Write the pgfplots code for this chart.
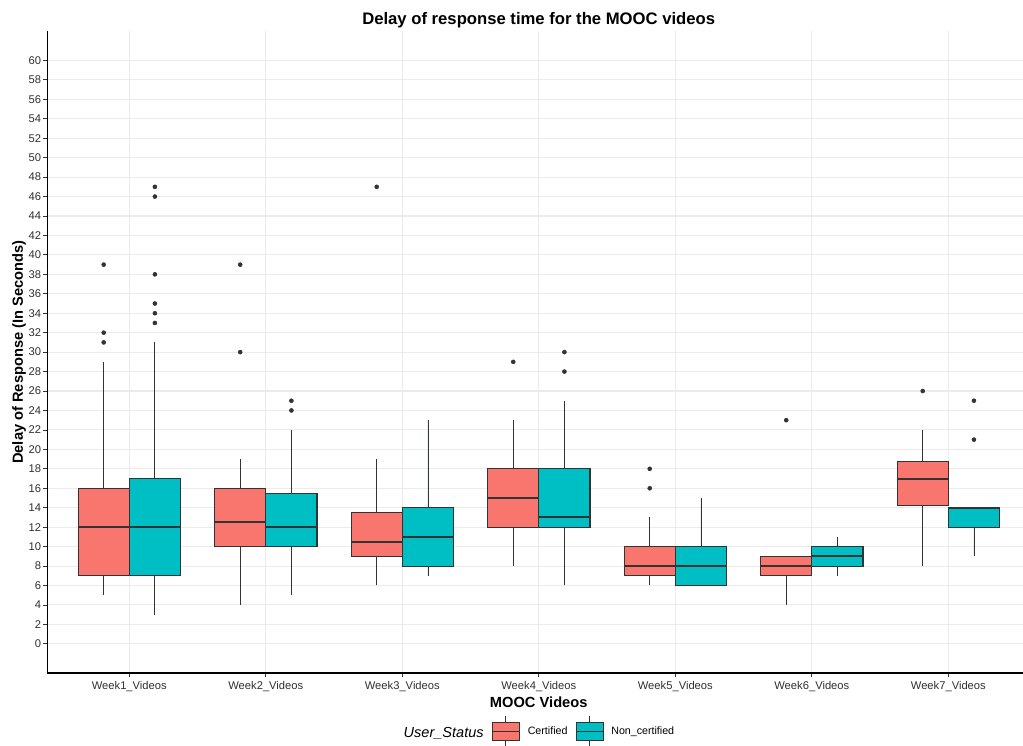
\documentclass[border=0pt]{standalone}
\usepackage{pgfplots}
\pgfplotsset{compat=1.18}
\usepgfplotslibrary{statistics}
\usepackage{fontspec}
\setmainfont{Liberation Sans}
\definecolor{cert}{HTML}{F8766D}
\definecolor{ncert}{HTML}{00BFC4}
\definecolor{bord}{HTML}{333333}
\definecolor{gridc}{HTML}{EBEBEB}
\definecolor{tickc}{HTML}{303030}
\pgfplotsset{
  bx/.style={fill=#1, draw=bord, line width=0.8pt, forget plot},
  outl/.style={only marks, mark=*, mark size=1.5pt, color=bord, forget plot},
  boxkey/.style={legend image code/.code={
    \draw[fill=#1, draw=bord, line width=0.6pt] (0pt,-7pt) rectangle (20.25pt,7pt);
    \draw[draw=bord, line width=0.6pt] (0pt,0pt)--(20.25pt,0pt)
      (10.125pt,7pt)--(10.125pt,11.5pt) (10.125pt,-7pt)--(10.125pt,-11.5pt);}},
}
\begin{document}
\begin{tikzpicture}
\useasboundingbox (0,0) rectangle (767.25pt,558.75pt);
\begin{axis}[
  at={(35.55pt,54pt)}, anchor=south west,
  scale only axis, width=731.7pt, height=481.3pt,
  xmin=0.4, xmax=7.547, ymin=-3, ymax=63,
  clip=false,
  axis x line*=bottom, axis y line*=left,
  axis line style={line width=0.8pt, color=black},
  xtick={1,...,7},
  xticklabels={Week1\_Videos,Week2\_Videos,Week3\_Videos,Week4\_Videos,Week5\_Videos,Week6\_Videos,Week7\_Videos},
  ytick={0,2,...,60},
  tick align=outside, major tick length=3pt,
  tick style={line width=0.6pt, color=bord},
  grid=major, grid style={line width=0.8pt, color=gridc},
  ticklabel style={font=\fontsize{8.4}{10}\selectfont, color=tickc},
  yticklabel style={inner sep=1.5pt},
  /pgf/number format/assume math mode=true,
  title={Delay of response time for the MOOC videos},
  title style={font=\bfseries\fontsize{12.5}{14}\selectfont, at={(axis description cs:0.5036,0.9984)}, anchor=base},
  xlabel={MOOC Videos},
  xlabel style={font=\bfseries\fontsize{11}{13}\selectfont, at={(axis description cs:0.5036,-0.0535)}, anchor=base},
  ylabel={Delay of Response (In Seconds)},
  ylabel style={font=\bfseries\fontsize{11}{13}\selectfont, at={(axis description cs:-0.0291,0.5)}, anchor=center, rotate=0},
  boxplot/draw direction=y,
  boxplot/every median/.style={line width=1.5pt},
  boxplot/every whisker/.style={line width=0.6pt},
  legend style={draw=none, fill=none, inner sep=0pt, outer sep=0pt,
    at={(axis description cs:0.4557,-0.091)}, anchor=west,
    nodes={inner sep=0pt, font=\fontsize{8}{9.6}\selectfont},
    /tikz/every odd column/.append style={column sep=6pt},
    /tikz/every even column/.append style={column sep=6pt}},
  legend columns=-1,
]
\addlegendimage{boxkey=cert}
\addlegendentry{Certified}
\addlegendimage{boxkey=ncert}
\addlegendentry{Non\_certified}

% Week 1
\addplot[bx=cert, boxplot prepared={draw position=0.8125, lower whisker=5, lower quartile=7, median=12, upper quartile=16, upper whisker=29, box extend=0.375, whisker extend=0}] coordinates {};
\addplot[bx=ncert, boxplot prepared={draw position=1.1875, lower whisker=3, lower quartile=7, median=12, upper quartile=17, upper whisker=31, box extend=0.375, whisker extend=0}] coordinates {};
% Week 2
\addplot[bx=cert, boxplot prepared={draw position=1.8125, lower whisker=4, lower quartile=10, median=12.5, upper quartile=16, upper whisker=19, box extend=0.375, whisker extend=0}] coordinates {};
\addplot[bx=ncert, boxplot prepared={draw position=2.1875, lower whisker=5, lower quartile=10, median=12, upper quartile=15.5, upper whisker=22, box extend=0.375, whisker extend=0}] coordinates {};
% Week 3
\addplot[bx=cert, boxplot prepared={draw position=2.8125, lower whisker=6, lower quartile=9, median=10.5, upper quartile=13.5, upper whisker=19, box extend=0.375, whisker extend=0}] coordinates {};
\addplot[bx=ncert, boxplot prepared={draw position=3.1875, lower whisker=7, lower quartile=8, median=11, upper quartile=14, upper whisker=23, box extend=0.375, whisker extend=0}] coordinates {};
% Week 4
\addplot[bx=cert, boxplot prepared={draw position=3.8125, lower whisker=8, lower quartile=12, median=15, upper quartile=18, upper whisker=23, box extend=0.375, whisker extend=0}] coordinates {};
\addplot[bx=ncert, boxplot prepared={draw position=4.1875, lower whisker=6, lower quartile=12, median=13, upper quartile=18, upper whisker=25, box extend=0.375, whisker extend=0}] coordinates {};
% Week 5
\addplot[bx=cert, boxplot prepared={draw position=4.8125, lower whisker=6, lower quartile=7, median=8, upper quartile=10, upper whisker=13, box extend=0.375, whisker extend=0}] coordinates {};
\addplot[bx=ncert, boxplot prepared={draw position=5.1875, lower whisker=6, lower quartile=6, median=8, upper quartile=10, upper whisker=15, box extend=0.375, whisker extend=0}] coordinates {};
% Week 6
\addplot[bx=cert, boxplot prepared={draw position=5.8125, lower whisker=4, lower quartile=7, median=8, upper quartile=9, upper whisker=9, box extend=0.375, whisker extend=0}] coordinates {};
\addplot[bx=ncert, boxplot prepared={draw position=6.1875, lower whisker=7, lower quartile=8, median=9, upper quartile=10, upper whisker=11, box extend=0.375, whisker extend=0}] coordinates {};
% Week 7
\addplot[bx=cert, boxplot prepared={draw position=6.8125, lower whisker=8, lower quartile=14.25, median=17, upper quartile=18.75, upper whisker=22, box extend=0.375, whisker extend=0}] coordinates {};
\addplot[bx=ncert, boxplot prepared={draw position=7.1875, lower whisker=9, lower quartile=12, median=14, upper quartile=14, upper whisker=14, box extend=0.375, whisker extend=0}] coordinates {};

% Outliers
\addplot[outl] coordinates {(0.8125,31) (0.8125,32) (0.8125,39)
  (1.1875,33) (1.1875,34) (1.1875,35) (1.1875,38) (1.1875,46) (1.1875,47)
  (1.8125,30) (1.8125,39) (2.1875,24) (2.1875,25)
  (2.8125,47)
  (3.8125,29) (4.1875,28) (4.1875,30)
  (4.8125,16) (4.8125,18)
  (5.8125,23)
  (6.8125,26) (7.1875,21) (7.1875,25)};

\node[anchor=base west, font=\itshape\fontsize{10.9}{13}\selectfont] at (axis description cs:0.3604,-0.1008) {User\_Status};
\end{axis}
\end{tikzpicture}
\end{document}
